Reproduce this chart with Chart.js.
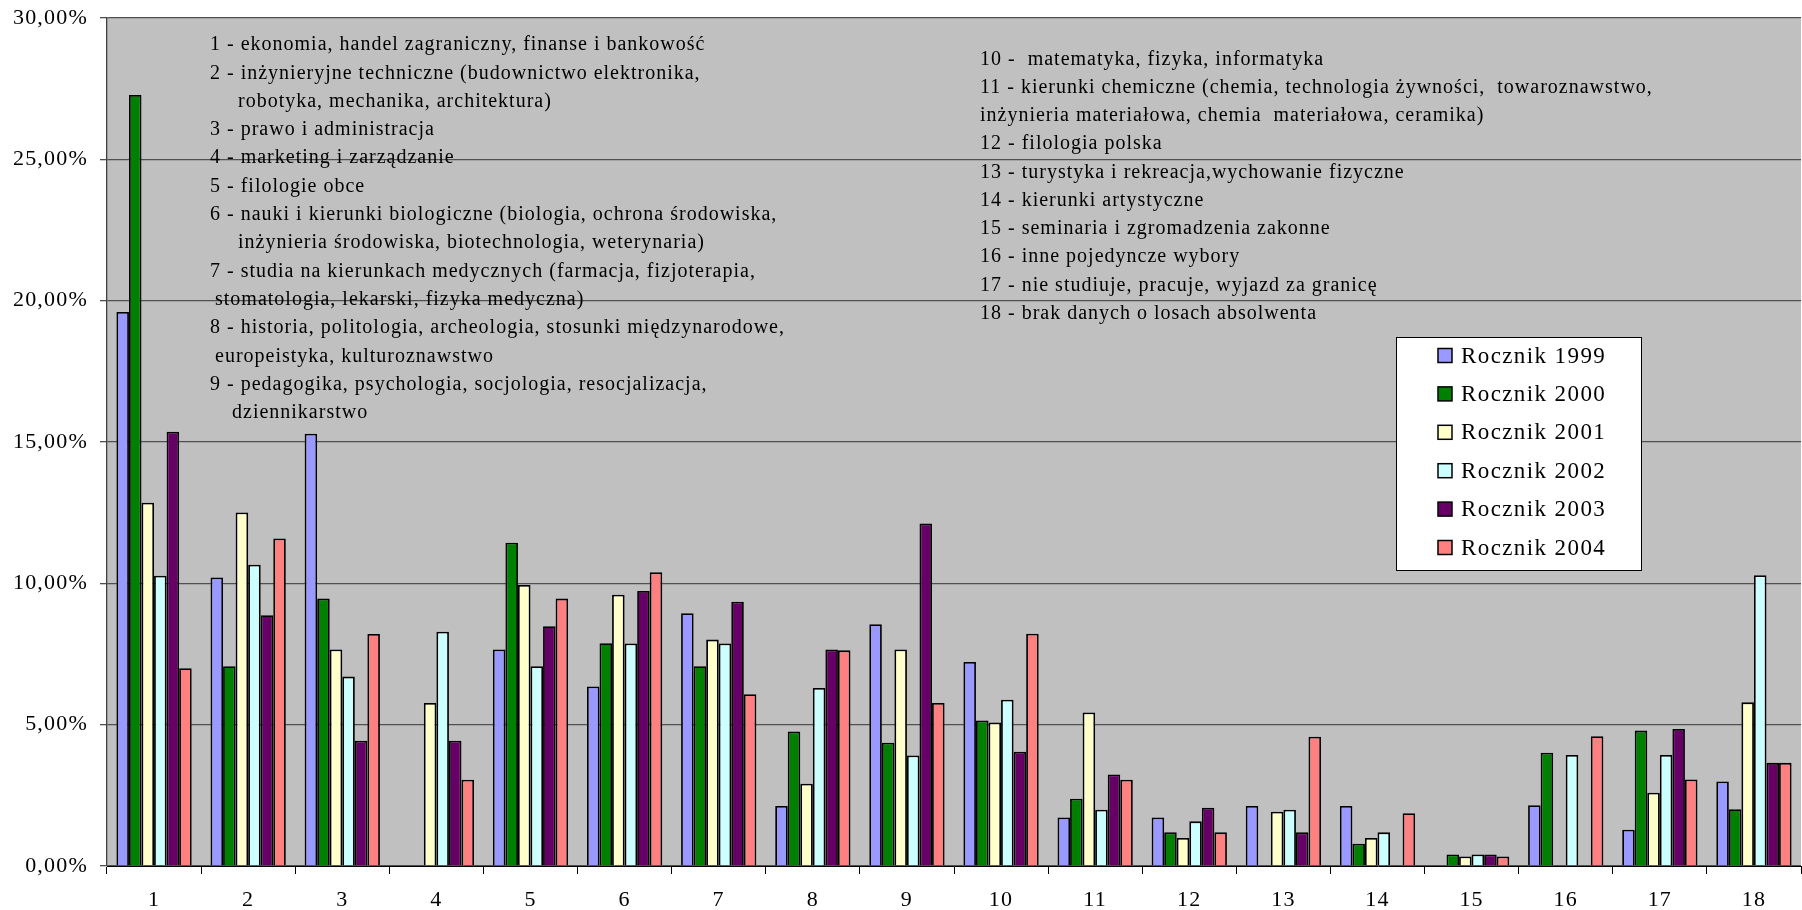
<!DOCTYPE html>
<html lang="pl">
<head>
<meta charset="utf-8">
<title>Losy absolwentów</title>
<script src="https://cdn.jsdelivr.net/npm/chart.js@4.4.1/dist/chart.umd.min.js"></script>
<style>
  html, body { margin: 0; padding: 0; background: #fff; }
  #wrap { width: 1802px; height: 910px; position: relative; }
</style>
</head>
<body>
<div id="wrap"><canvas id="wykres"></canvas></div>
<script>
// Numery kierunków na osi X
const kategorie = ['1', '2', '3', '4', '5', '6', '7', '8', '9', '10', '11', '12', '13', '14', '15', '16', '17', '18'];

// Nazwy serii
const roczniki = ['Rocznik 1999', 'Rocznik 2000', 'Rocznik 2001', 'Rocznik 2002', 'Rocznik 2003', 'Rocznik 2004'];

// Udział absolwentów (%)
const rocznik1999 = [19.6, 10.21, 15.29, 0, 7.66, 6.35, 8.94, 2.12, 8.55, 7.22, 1.72, 1.72, 2.12, 2.12, 0, 2.15, 1.28, 2.99];
const rocznik2000 = [27.28, 7.07, 9.46, 0, 11.44, 7.88, 7.07, 4.76, 4.36, 5.15, 2.38, 1.19, 0, 0.79, 0.41, 4.01, 4.79, 2.01];
const rocznik2001 = [12.85, 12.51, 7.66, 5.77, 9.94, 9.6, 8.01, 2.91, 7.66, 5.08, 5.43, 0.99, 1.92, 0.99, 0.34, 0, 2.59, 5.79];
const rocznik2002 = [10.27, 10.66, 6.7, 8.29, 7.07, 7.87, 7.87, 6.3, 3.91, 5.88, 1.99, 1.58, 1.99, 1.19, 0.41, 3.93, 3.93, 10.29];
const rocznik2003 = [15.36, 8.87, 4.43, 4.43, 8.48, 9.73, 9.35, 7.66, 12.12, 4.04, 3.24, 2.06, 1.19, 0, 0.41, 0, 4.85, 3.65];
const rocznik2004 = [7.0, 11.59, 8.21, 3.05, 9.46, 10.39, 6.08, 7.63, 5.77, 8.22, 3.05, 1.19, 4.57, 1.87, 0.34, 4.59, 3.06, 3.65];

// Skala Y
const osYMin = 0;
const osYMax = 30;
const osYKrok = 5;

// Opisy kierunków
const opisyLewe = [
    '1 - ekonomia, handel zagraniczny, finanse i bankowość',
    '2 - inżynieryjne techniczne (budownictwo elektronika,',
    'robotyka, mechanika, architektura)',
    '3 - prawo i administracja',
    '4 - marketing i zarządzanie',
    '5 - filologie obce',
    '6 - nauki i kierunki biologiczne (biologia, ochrona środowiska,',
    'inżynieria środowiska, biotechnologia, weterynaria)',
    '7 - studia na kierunkach medycznych (farmacja, fizjoterapia,',
    'stomatologia, lekarski, fizyka medyczna)',
    '8 - historia, politologia, archeologia, stosunki międzynarodowe,',
    'europeistyka, kulturoznawstwo',
    '9 - pedagogika, psychologia, socjologia, resocjalizacja,',
    'dziennikarstwo'
];
const opisyPrawe = [
    '10 -  matematyka, fizyka, informatyka',
    '11 - kierunki chemiczne (chemia, technologia żywności,  towaroznawstwo,',
    'inżynieria materiałowa, chemia  materiałowa, ceramika)',
    '12 - filologia polska',
    '13 - turystyka i rekreacja,wychowanie fizyczne',
    '14 - kierunki artystyczne',
    '15 - seminaria i zgromadzenia zakonne',
    '16 - inne pojedyncze wybory',
    '17 - nie studiuje, pracuje, wyjazd za granicę',
    '18 - brak danych o losach absolwenta'
];

const czcionka = '"Liberation Serif", "Times New Roman", serif';

// Tło obszaru wykresu, opisy i legenda
const dodatki = {
    id: 'dodatki',
    beforeDraw(chart) {
        const { ctx, chartArea: a } = chart;
        ctx.save();
        ctx.fillStyle = '#c0c0c0';
        ctx.fillRect(a.left, a.top, a.right - a.left, a.bottom - a.top);
        ctx.restore();
        ctx.letterSpacing = '1.2px';
    },
    afterDraw(chart) {
        const ctx = chart.ctx;
        ctx.save();
        ctx.fillStyle = '#000';
        ctx.textAlign = 'left';
        ctx.textBaseline = 'middle';
        ctx.font = '20px ' + czcionka;
        ctx.letterSpacing = '1px';

        const wciecia = [210, 210, 238, 210, 210, 210, 210, 238, 210, 215, 210, 215, 210, 232];
        opisyLewe.forEach((t, i) => ctx.fillText(t, wciecia[i], 45 + i * 28.3));
        opisyPrawe.forEach((t, i) => ctx.fillText(t, 980, 59.3 + i * 28.25));

        // legenda
        const lx = 1396.5, ly = 337.5, lw = 245, lh = 233;
        ctx.fillStyle = '#fff';
        ctx.fillRect(lx, ly, lw, lh);
        ctx.strokeStyle = '#000';
        ctx.lineWidth = 1;
        ctx.strokeRect(lx, ly, lw, lh);

        ctx.font = '23px ' + czcionka;
        ctx.letterSpacing = '1.4px';
        chart.data.datasets.forEach((ds, i) => {
            const cy = 355.5 + i * 38.4;
            ctx.fillStyle = ds.backgroundColor;
            ctx.fillRect(1438, cy - 7, 14, 14);
            ctx.lineWidth = 1.5;
            ctx.strokeStyle = '#000';
            ctx.strokeRect(1438, cy - 7, 14, 14);
            ctx.fillStyle = '#000';
            ctx.fillText(ds.label, 1461, cy + 1);
        });
        ctx.restore();
        ctx.letterSpacing = '0px';
    }
};

const serie = [rocznik1999, rocznik2000, rocznik2001, rocznik2002, rocznik2003, rocznik2004];
const kolory = ['#9999ff', '#008000', '#ffffcc', '#ccffff', '#660066', '#ff8080'];

const ctx = document.getElementById('wykres').getContext('2d');
const wykres = new Chart(ctx, {
    type: 'bar',
    data: {
        labels: kategorie,
        datasets: serie.map((dane, i) => ({
            label: roczniki[i],
            data: dane,
            backgroundColor: kolory[i],
            borderColor: '#000',
            borderWidth: 1.8,
            categoryPercentage: 0.8,
            barPercentage: 1.0
        }))
    },
    options: {
        responsive: true,
        maintainAspectRatio: false,
        animation: false,
        layout: {
            padding: { top: 18, right: 1, bottom: 0, left: 0 }
        },
        plugins: {
            legend: { display: false },
            tooltip: { enabled: false }
        },
        scales: {
            x: {
                offset: true,
                grid: {
                    offset: true,
                    drawOnChartArea: false,
                    drawTicks: true,
                    tickLength: 8,
                    color: '#000',
                    lineWidth: 1
                },
                border: { display: true, color: '#000', width: 1 },
                ticks: {
                    color: '#000',
                    font: { family: czcionka, size: 22 },
                    padding: 13,
                    maxRotation: 0,
                    autoSkip: false
                },
                afterFit(scale) {
                    scale.height = 44;
                    scale.paddingLeft = 0;
                    scale.paddingRight = 0;
                }
            },
            y: {
                min: osYMin,
                max: osYMax,
                grid: {
                    color: '#505050',
                    lineWidth: 1.3,
                    drawTicks: true,
                    tickLength: 7
                },
                border: { display: true, color: '#404040', width: 1.3 },
                ticks: {
                    stepSize: osYKrok,
                    color: '#000',
                    font: { family: czcionka, size: 22 },
                    padding: 12,
                    callback: v => v.toFixed(2).replace('.', ',') + '%'
                },
                afterFit(scale) {
                    scale.width = 107;
                    scale.paddingTop = 0;
                    scale.paddingBottom = 0;
                }
            }
        }
    },
    plugins: [dodatki]
});
</script>
</body>
</html>
